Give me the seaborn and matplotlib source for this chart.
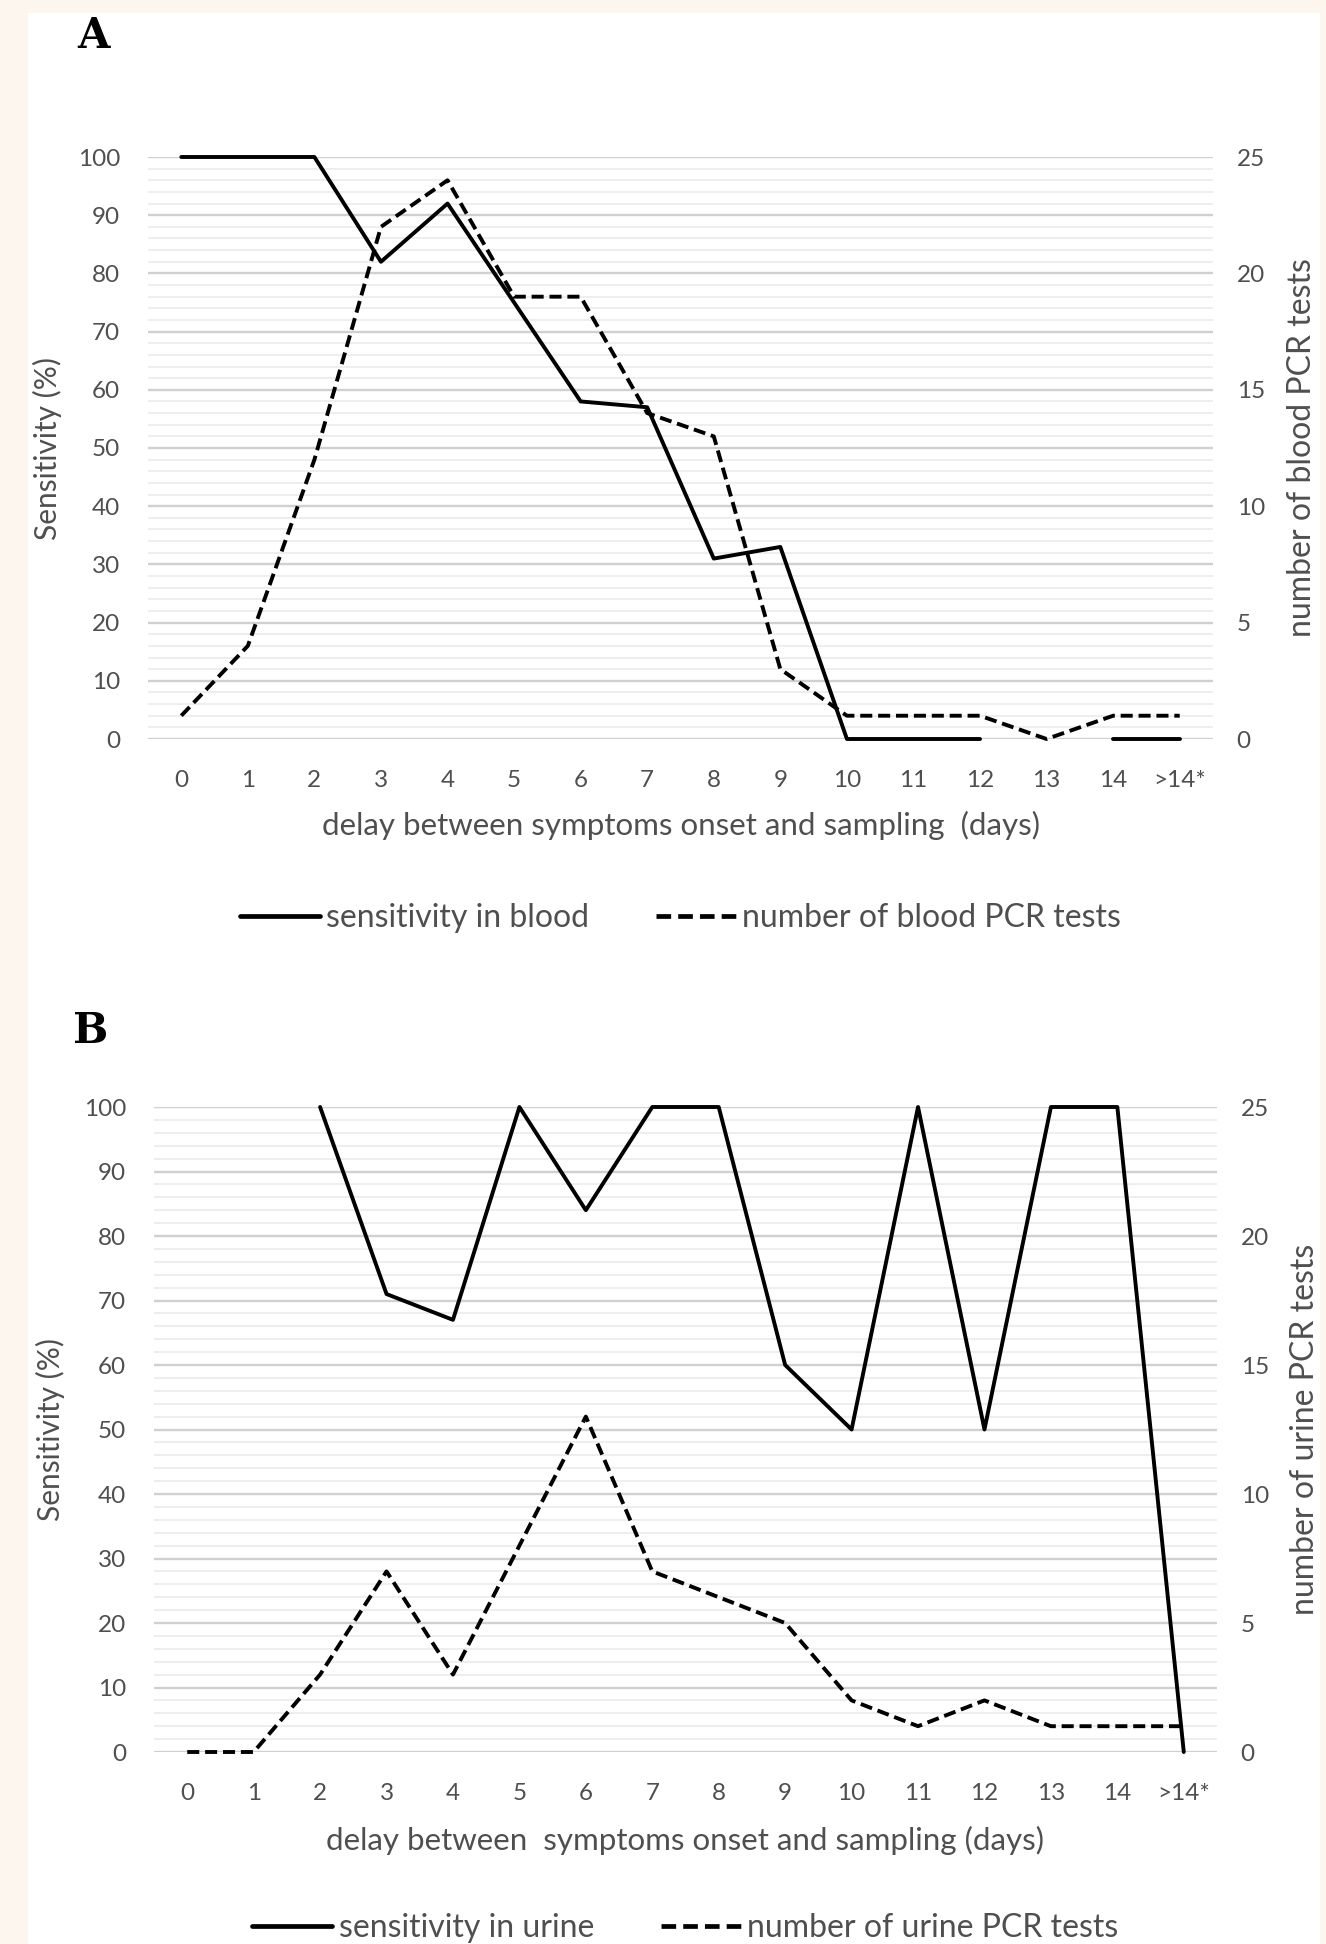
import numpy as np
import pandas as pd
import matplotlib
matplotlib.use('Agg')
import matplotlib.pyplot as plt
import seaborn as sns
from matplotlib.lines import Line2D
from matplotlib.patches import Rectangle

# ---------------- data ----------------
days = ['0', '1', '2', '3', '4', '5', '6', '7', '8', '9', '10', '11', '12', '13', '14', '>14*']
blood_sens = [100, 100, 100, 82, 92, 75, 58, 57, 31, 33, 0, 0, 0, np.nan, 0, 0]
blood_n = [1, 4, 12, 22, 24, 19, 19, 14, 13, 3, 1, 1, 1, 0, 1, 1]
urine_sens = [np.nan, np.nan, 100, 71, 67, 100, 84, 100, 100, 60, 50, 100, 50, 100, 100, 0]
urine_n = [0, 0, 3, 7, 3, 8, 13, 7, 6, 5, 2, 1, 2, 1, 1, 1]

left_ticks = list(range(0, 101, 10))
right_ticks = list(range(0, 26, 5))

sns.set_theme(style='white')
plt.rcParams['font.family'] = ['Lato', 'DejaVu Sans']

GRAY = '#4F4F4F'
DASH = (0, (3.1, 1.5))
LW = 2.8

W, H = 1326, 1944
fig = plt.figure(figsize=(W / 100, H / 100), dpi=100, facecolor='#FCF6EF')
fig.patches.append(Rectangle((28 / W, 0), (1320 - 28) / W, 1 - 13 / H,
                             transform=fig.transFigure, facecolor='white',
                             edgecolor='none', zorder=-10))


def px_rect(l, t, r, b):
    return [l / W, 1 - b / H, (r - l) / W, (b - t) / H]


def panel(rect, sens, n, xlabel, rlabel, leg_labels, leg_y, ylab_x, rlab_x, xlab_y):
    ax = fig.add_axes(rect)
    ax2 = ax.twinx()
    df = pd.DataFrame({'x': np.arange(len(days)), 'sens': sens, 'n': n})
    df['seg'] = df['sens'].isna().cumsum()
    d = df.dropna(subset=['sens'])
    sns.lineplot(data=d, x='x', y='sens', units='seg', estimator=None, color='black',
                 lw=LW, ax=ax, legend=False, clip_on=False)
    sns.lineplot(data=df, x='x', y='n', color='black', lw=LW, ax=ax2, legend=False,
                 linestyle=DASH, clip_on=False)
    ax.set_xlim(-0.5, len(days) - 0.5)
    ax.set_ylim(0, 100)
    ax2.set_ylim(0, 25)
    ax.set_xticks(range(len(days)))
    ax.set_xticklabels(days)
    ax.set_yticks(left_ticks)
    ax.set_yticks(np.arange(0, 101, 2), minor=True)
    ax2.set_yticks(right_ticks)
    ax.yaxis.grid(True, which='major', color='#D0D0D0', lw=1.7)
    ax.yaxis.grid(True, which='minor', color='#EBEBEB', lw=1.2)
    ax.xaxis.grid(False)
    ax2.grid(False)
    ax.set_axisbelow(True)
    for a in (ax, ax2):
        for s in a.spines.values():
            s.set_visible(False)
        a.tick_params(axis='both', which='both', length=0, labelsize=17.5, labelcolor=GRAY)
    ax.tick_params(axis='y', pad=20)
    ax.tick_params(axis='x', pad=22)
    ax2.tick_params(axis='y', pad=17)
    ax.set_xlabel(xlabel, fontsize=22.5, color=GRAY)
    ax.set_ylabel('Sensitivity (%)', fontsize=21.5, color=GRAY)
    ax2.set_ylabel(rlabel, fontsize=23, color=GRAY)
    ax.xaxis.label.set_va('center')
    ax.yaxis.label.set_va('center')
    ax2.yaxis.label.set_va('center')
    ax.xaxis.set_label_coords(0.5, xlab_y)
    ax.yaxis.set_label_coords(ylab_x, 0.5)
    ax2.yaxis.set_label_coords(rlab_x, 0.5)
    handles = [Line2D([], [], color='black', lw=LW + 0.6),
               Line2D([], [], color='black', lw=LW + 0.6, linestyle=DASH)]
    ax.legend(handles, leg_labels, loc='center', bbox_to_anchor=(0.5, leg_y), ncol=2,
              frameon=False, fontsize=23, handlelength=2.5, handletextpad=0.2,
              columnspacing=2.1, labelcolor=GRAY)
    return ax, ax2


# Panel A
panel(px_rect(148, 157, 1213, 739), blood_sens, blood_n,
      'delay between symptoms onset and sampling  (days)', 'number of blood PCR tests',
      ['sensitivity in blood', 'number of blood PCR tests'],
      leg_y=-(918 - 739) / 582, ylab_x=(47 - 148) / 1065, rlab_x=(1302 - 148) / 1065,
      xlab_y=-(825 - 739) / 582)

# Panel B
panel(px_rect(154, 1107, 1217, 1752), urine_sens, urine_n,
      'delay between  symptoms onset and sampling (days)', 'number of urine PCR tests',
      ['sensitivity in urine', 'number of urine PCR tests'],
      leg_y=-(1928 - 1752) / 645, ylab_x=(50 - 154) / 1063, rlab_x=(1305 - 154) / 1063,
      xlab_y=-(1840 - 1752) / 645)

fig.text(93 / W, 1 - 36 / H, 'A', fontsize=30, fontweight='bold', family='DejaVu Serif',
         ha='center', va='center', color='black')
fig.text(91 / W, 1 - 1031 / H, 'B', fontsize=30, fontweight='bold', family='DejaVu Serif',
         ha='center', va='center', color='black')

fig.savefig('out.png', dpi=100, facecolor=fig.get_facecolor())
